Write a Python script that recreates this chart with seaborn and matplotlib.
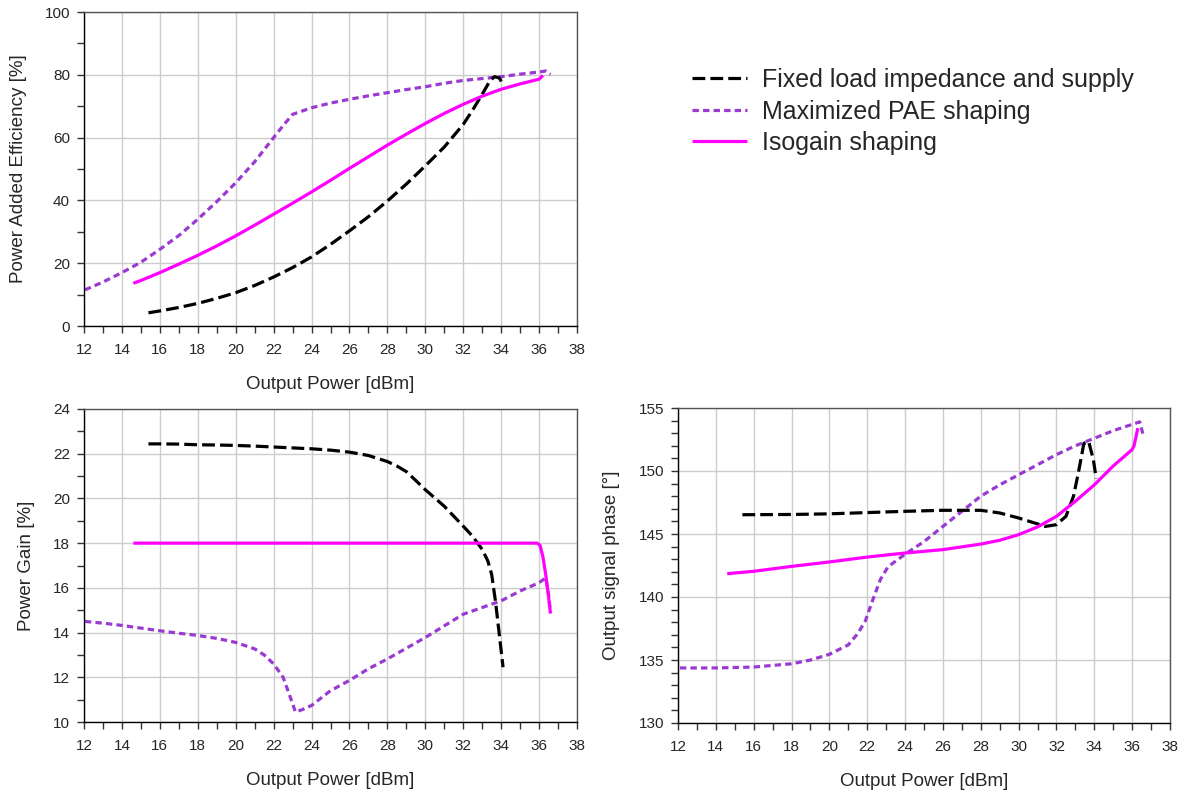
"""
PAE, gain and AM/PM versus output power for three supply/load shaping strategies.
"""

import numpy as np
import pandas as pd
import matplotlib
matplotlib.use('Agg')
import matplotlib.pyplot as plt
from matplotlib.ticker import MultipleLocator
import seaborn as sns

# ---------------------------------------------------------------- data
series_names = ['Fixed load impedance and supply', 'Maximized PAE shaping', 'Isogain shaping']

# Power added efficiency [%]
pae_fixed_x = [15.4, 16, 17, 18, 19, 20, 21, 22, 23, 24, 25, 26, 27, 28, 29, 30, 31, 32, 32.5, 33,
               33.4, 33.65, 33.9, 34.1]
pae_fixed_y = [4.2, 4.8, 5.9, 7.2, 8.8, 10.6, 12.9, 15.6, 18.6, 22.0, 26.0, 30.3, 34.8, 39.8, 45.2,
               51.0, 57.0, 64.2, 68.8, 73.8, 78.0, 79.4, 79.0, 77.0]
pae_max_x = [12.05, 13, 14, 15, 16, 17, 18, 19, 20, 21, 22, 22.5, 23, 24, 25, 26, 27, 28, 29, 30,
             31, 32, 33, 34, 35, 36, 36.35, 36.6]
pae_max_y = [11.5, 14.0, 17.0, 20.3, 24.4, 28.8, 34.0, 39.6, 45.6, 52.3, 60.0, 63.8, 67.4, 69.5,
             71.0, 72.2, 73.3, 74.3, 75.3, 76.2, 77.3, 78.2, 78.8, 79.4, 80.2, 80.9, 81.2, 80.1]
pae_iso_x = [14.6, 15, 16, 17, 18, 19, 20, 21, 22, 23, 24, 25, 26, 27, 28, 29, 30, 31, 32, 33, 34,
             35, 36, 36.2]
pae_iso_y = [13.6, 14.5, 17.0, 19.7, 22.5, 25.5, 28.7, 32.1, 35.6, 39.1, 42.7, 46.4, 50.2, 53.9,
             57.6, 61.1, 64.5, 67.7, 70.6, 73.2, 75.4, 77.1, 78.6, 79.8]

# Power gain
gain_fixed_x = [15.4, 16, 17, 18, 19, 20, 21, 22, 23, 24, 25, 26, 27, 28, 28.5, 29, 29.5, 30, 31,
                32, 32.5, 33, 33.3, 33.5, 33.7, 33.9, 34.1]
gain_fixed_y = [22.44, 22.44, 22.43, 22.40, 22.39, 22.37, 22.34, 22.30, 22.26, 22.22, 22.16, 22.07,
                21.92, 21.65, 21.45, 21.20, 20.80, 20.39, 19.65, 18.76, 18.30, 17.72, 17.20, 16.60,
                15.40, 13.93, 12.45]
gain_max_x = [12.05, 13, 14, 15, 16, 17, 18, 19, 20, 21, 21.5, 22, 22.5, 22.8, 23.15, 23.5, 24, 25,
              26, 27, 28, 29, 30, 31, 32, 33, 34, 35, 36, 36.35, 36.5, 36.6]
gain_max_y = [14.50, 14.42, 14.32, 14.20, 14.08, 13.97, 13.87, 13.74, 13.56, 13.27, 13.00, 12.60,
              12.00, 11.30, 10.45, 10.55, 10.74, 11.40, 11.86, 12.38, 12.82, 13.30, 13.78, 14.30,
              14.82, 15.12, 15.42, 15.86, 16.23, 16.45, 15.70, 14.90]
gain_iso_x = [14.6, 35.9, 36.05, 36.2, 36.35, 36.5, 36.6]
gain_iso_y = [18.0, 18.0, 17.9, 17.4, 16.6, 15.6, 14.85]

# Output signal phase [deg]
phase_fixed_x = [15.4, 18, 20, 22, 24, 26, 28, 29, 30, 31, 31.4, 32, 32.5, 32.9, 33.15, 33.45, 33.7,
                 33.95, 34.1]
phase_fixed_y = [146.53, 146.55, 146.60, 146.70, 146.80, 146.88, 146.88, 146.67, 146.27, 145.80,
                 145.60, 145.74, 146.40, 148.00, 149.80, 152.20, 152.35, 150.90, 149.40]
phase_max_x = [12.1, 14, 16, 18, 19, 20, 21, 21.5, 21.9, 22.3, 22.7, 23.1, 24, 25, 26, 27, 28, 29,
               30, 31, 32, 33, 34, 35, 36, 36.4, 36.6]
phase_max_y = [134.37, 134.37, 134.44, 134.70, 135.00, 135.45, 136.20, 137.10, 138.10, 139.80,
               141.40, 142.40, 143.40, 144.40, 145.60, 146.80, 148.00, 148.90, 149.70, 150.50,
               151.30, 152.00, 152.60, 153.20, 153.70, 153.90, 152.75]
phase_iso_x = [14.6, 16, 18, 20, 22, 24, 26, 28, 29, 30, 31, 32, 33, 34, 35, 36, 36.1, 36.3]
phase_iso_y = [141.85, 142.04, 142.43, 142.78, 143.17, 143.49, 143.76, 144.20, 144.50, 144.95,
               145.56, 146.40, 147.60, 148.90, 150.40, 151.70, 152.00, 153.40]

# ---------------------------------------------------------------- style
sns.set_style('white')
plt.rcParams['font.family'] = ['Liberation Sans', 'DejaVu Sans']
plt.rcParams['axes.linewidth'] = 1.0

colors = {series_names[0]: '#000000', series_names[1]: '#9a3ad2', series_names[2]: '#ff00ff'}
dashes = {series_names[0]: (4, 1.6), series_names[1]: (2, 1.3), series_names[2]: ''}
draw_order = [series_names[1], series_names[0], series_names[2]]


def make_frame(fixed, maxpae, iso):
    parts = []
    for name, (xs, ys) in zip(series_names, [fixed, maxpae, iso]):
        parts.append(pd.DataFrame({'pout': xs, 'val': ys, 'series': name,
                                   'idx': np.arange(len(xs))}))
    return pd.concat(parts, ignore_index=True)


def draw_panel(ax, df, ylim, ymajor, yminor, ylabel, ylabel_x):
    for name in draw_order:
        sub = df[df['series'] == name]
        sns.lineplot(data=sub, x='pout', y='val', ax=ax, sort=False, estimator=None,
                     color=colors[name], linewidth=2.3, label=name,
                     dashes=False, legend=False)
        line = ax.lines[-1]
        if dashes[name]:
            line.set_dashes(dashes[name])
        line.set_solid_capstyle('butt')
        line.set_dash_capstyle('butt')
    ax.set_xlim(12, 38)
    ax.set_ylim(*ylim)
    ax.xaxis.set_major_locator(MultipleLocator(2))
    ax.xaxis.set_minor_locator(MultipleLocator(1))
    ax.yaxis.set_major_locator(MultipleLocator(ymajor))
    ax.yaxis.set_minor_locator(MultipleLocator(yminor))
    ax.grid(True, which='major', color='#cccccc', linewidth=1.0)
    ax.set_axisbelow(True)
    ax.tick_params(which='both', direction='out', length=5, width=1, color='#333333',
                   bottom=True, left=True, labelsize=11)
    ax.tick_params(axis='x', pad=7)
    ax.tick_params(axis='y', pad=5)
    for side in ['left', 'bottom']:
        ax.spines[side].set_color('#000000')
    for side in ['top', 'right']:
        ax.spines[side].set_color('#555555')
    ax.set_xlabel('Output Power [dBm]', fontsize=13.5)
    ax.set_ylabel(ylabel, fontsize=13.5)
    ax.xaxis.set_label_coords(0.5, -0.16)
    ax.yaxis.set_label_coords(ylabel_x, 0.5)


fig = plt.figure(figsize=(11.86, 7.96), dpi=100)
W, H = 1186, 796
ax_pae = fig.add_axes([84 / W, 1 - 326 / H, 493 / W, 314 / H])
ax_gain = fig.add_axes([84 / W, 1 - 722 / H, 493 / W, 313 / H])
ax_phase = fig.add_axes([678 / W, 1 - 723 / H, 492 / W, 315 / H])

draw_panel(ax_pae, make_frame((pae_fixed_x, pae_fixed_y), (pae_max_x, pae_max_y),
                              (pae_iso_x, pae_iso_y)),
           (0, 100), 20, 10, 'Power Added Efficiency [%]', -0.116)
draw_panel(ax_gain, make_frame((gain_fixed_x, gain_fixed_y), (gain_max_x, gain_max_y),
                               (gain_iso_x, gain_iso_y)),
           (10, 24), 2, 1, 'Power Gain [%]', -0.099)
draw_panel(ax_phase, make_frame((phase_fixed_x, phase_fixed_y), (phase_max_x, phase_max_y),
                                (phase_iso_x, phase_iso_y)),
           (130, 155), 5, 1, 'Output signal phase [°]', -0.117)

# legend in the empty upper-right area
handles = {l.get_label(): l for l in ax_pae.lines}
fig.legend([handles[n] for n in series_names], series_names,
           loc='upper left', bbox_to_anchor=(682 / W, 1 - 58 / H), frameon=False,
           fontsize=18, handlelength=2.2, handletextpad=0.6, labelspacing=0.3,
           borderaxespad=0)

fig.savefig('out.png', dpi=100)
